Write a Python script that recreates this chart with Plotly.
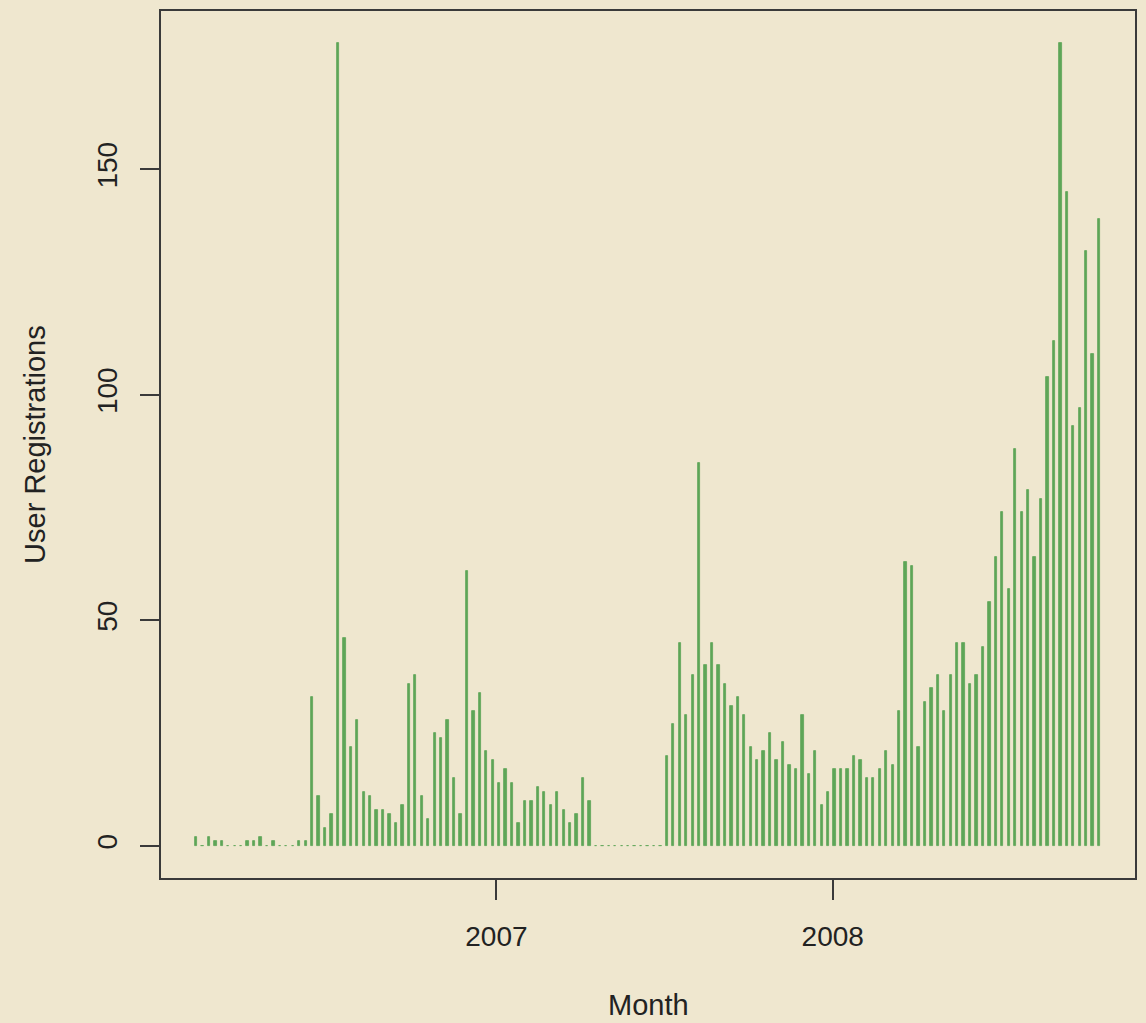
import pandas as pd
import plotly.graph_objects as go

# Weekly user registrations
first_week = "2006-02-09"
registrations = [
    2, 0, 2, 1, 1, 0, 0, 0, 1, 1, 2, 0, 1, 0, 0, 0, 1, 1,
    33, 11, 4, 7, 178, 46, 22, 28, 12, 11, 8, 8, 7, 5, 9, 36, 38, 11, 6,
    25, 24, 28, 15, 7, 61, 30, 34, 21, 19, 14, 17, 14, 5, 10, 10, 13, 12,
    9, 12, 8, 5, 7, 15, 10,
    0, 0, 0, 0, 0, 0, 0, 0, 0, 0, 0,
    20, 27, 45, 29, 38, 85, 40, 45, 40, 36, 31, 33, 29, 22, 19, 21, 25, 19,
    23, 18, 17, 29, 16, 21, 9, 12, 17, 17, 17, 20, 19, 15, 15, 17, 21, 18,
    30, 63, 62, 22, 32, 35, 38, 30, 38, 45, 45, 36, 38, 44, 54, 64, 74, 57,
    88, 74, 79, 64, 77, 104, 112, 178, 145, 93, 97, 132, 109, 139,
]
weeks = pd.date_range(first_week, periods=len(registrations), freq="7D")

year_ticks = ["2007-01-01", "2008-01-01"]
year_labels = ["2007", "2008"]
y_ticks = [0, 50, 100, 150]

x_lo = pd.Timestamp(first_week) - pd.Timedelta(days=38)
x_hi = pd.Timestamp(first_week) + pd.Timedelta(days=1019)

bg = "#efe7cf"
ink = "#222222"
axis_col = "#3a3a3a"
font_family = "Liberation Sans, Arial, sans-serif"
day_ms = 86400000

fig = go.Figure(
    go.Bar(
        x=weeks,
        y=registrations,
        width=2.5 * day_ms,
        marker=dict(color="#5ea658", line=dict(color="#5ea658", width=0.8)),
        hoverinfo="x+y",
    )
)

fig.update_layout(
    width=1146,
    height=1023,
    margin=dict(l=161, r=9, t=10, b=145),
    paper_bgcolor=bg,
    plot_bgcolor=bg,
    showlegend=False,
    font=dict(family=font_family, size=28, color=ink),
    bargap=0,
)

fig.update_xaxes(
    type="date",
    range=[x_lo, x_hi],
    tickmode="array",
    tickvals=year_ticks,
    ticktext=year_labels,
    ticks="outside",
    ticklen=20,
    tickwidth=2,
    tickcolor=axis_col,
    ticklabelstandoff=12,
    showgrid=False,
    zeroline=False,
    showline=True,
    linecolor=axis_col,
    linewidth=2,
    mirror=True,
    tickfont=dict(size=28, color=ink),
)

fig.update_yaxes(
    range=[-7.12, 185.12],
    tickmode="array",
    tickvals=y_ticks,
    ticktext=[str(v) for v in y_ticks],
    ticks="outside",
    ticklen=19,
    tickwidth=2,
    tickcolor=axis_col,
    tickangle=-90,
    ticklabelstandoff=12,
    showgrid=False,
    zeroline=False,
    showline=True,
    linecolor=axis_col,
    linewidth=2,
    mirror=True,
    tickfont=dict(size=28, color=ink),
)

fig.add_annotation(
    text="Month", xref="paper", yref="paper", x=0.5, y=-0.1463,
    xanchor="center", yanchor="middle", showarrow=False,
    font=dict(size=29, color=ink, family=font_family),
)
fig.add_annotation(
    text="User Registrations", xref="paper", yref="paper", x=-0.130, y=0.5,
    xanchor="center", yanchor="middle", textangle=-90, showarrow=False,
    font=dict(size=29, color=ink, family=font_family),
)

fig.write_html(
    "out.html",
    config={"displayModeBar": False},
    post_script=(
        "document.body.style.margin='0';"
        "document.body.style.padding='0';"
        "document.body.style.overflow='hidden';"
        "document.body.style.background='" + bg + "';"
    ),
)
